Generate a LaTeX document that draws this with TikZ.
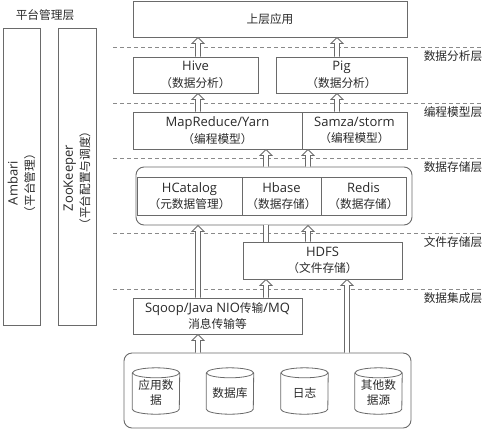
\documentclass[tikz,border=0pt]{standalone}
\usepackage{fontspec}
\setmainfont{Open Sans}
\newfontfamily\cjk[Scale=0.9]{Noto Sans CJK SC}
\usetikzlibrary{calc}
\definecolor{linec}{HTML}{6A6A6A}
\definecolor{txtc}{HTML}{2A2A2A}
\definecolor{dashc}{HTML}{8A8A8A}
\tikzset{
  box/.style={draw=linec, line width=0.9pt, align=center, inner sep=0pt,
    font=\fontsize{13}{16.5}\selectfont, text=txtc},
  rbox/.style={box, rounded corners=8pt},
  txt/.style={align=center, inner sep=0pt, font=\fontsize{13}{16.5}\selectfont, text=txtc},
  lbl/.style={font=\cjk\fontsize{13}{16}\selectfont, text=txtc, inner sep=0pt},
  dashline/.style={draw=dashc, dash pattern=on 4pt off 3pt, line width=0.8pt},
  harrow/.style={draw=linec, line width=0.8pt, fill=white},
  cylbox/.style={minimum width=47pt, minimum height=46pt, inner sep=0pt, align=center,
    font=\cjk\fontsize{13}{15}\selectfont, text=txtc},
}
\newcommand\hup[3]{\draw[harrow] let \p1=(#1,0 |- #2), \p2=(#1,0 |- #3) in
  (\x1-2.5pt,\y1) -- (\x1-2.5pt,\y2-6pt) -- (\x1-6pt,\y2-6pt) -- (\x1,\y2)
  -- (\x1+6pt,\y2-6pt) -- (\x1+2.5pt,\y2-6pt) -- (\x1+2.5pt,\y1);}
\newcommand\hpipe[3]{\path[fill=white] let \p1=(#1,0 |- #2), \p2=(#1,0 |- #3) in
  (\x1-2.5pt,\y1) rectangle (\x1+2.5pt,\y2);
  \draw[draw=linec, line width=0.8pt] let \p1=(#1,0 |- #2), \p2=(#1,0 |- #3) in
  (\x1-2.5pt,\y1) -- (\x1-2.5pt,\y2) (\x1+2.5pt,\y1) -- (\x1+2.5pt,\y2);}
\newcommand\cyl[1]{\draw[linec, line width=0.8pt]
  ([yshift=-5pt]#1.north) ellipse [x radius=23.5pt, y radius=5pt]
  ([yshift=-5pt]#1.north west) -- ([yshift=5pt]#1.south west)
  arc[start angle=180, end angle=360, x radius=23.5pt, y radius=5pt]
  -- ([yshift=-5pt]#1.north east);}
\begin{document}
\begin{tikzpicture}[x=1pt, y=-1pt]
\useasboundingbox[fill=white] (0,0) rectangle (489,429);
% dashed layer lines
\coordinate (d1a) at (113,47);  \coordinate (d1b) at (483,47);
\coordinate (d2a) at (113,103); \coordinate (d2b) at (483,103);
\coordinate (d3a) at (113,158); \coordinate (d3b) at (483,158);
\coordinate (d4a) at (113,233); \coordinate (d4b) at (483,233);
\coordinate (d5a) at (113,289); \coordinate (d5b) at (483,289);
\foreach \i in {1,...,5}{\draw[dashline] (d\i a) -- (d\i b);}
% layer labels
\node[lbl] (l0) at (45,15) {平台管理层};
\node[lbl] (l1) at (453,56) {数据分析层};
\node[lbl] (l2) at (453,112) {编程模型层};
\node[lbl] (l3) at (453,167) {数据存储层};
\node[lbl] (l4) at (453,242) {文件存储层};
\node[lbl] (l5) at (453,298) {数据集成层};
% left platform boxes
\node[box, minimum width=37pt, minimum height=297pt] (amb) at (21.5,176.5) {};
\node[txt, rotate=90] (ambt) at (21.5,183) {Ambari\\{\cjk （平台管理）}};
\node[box, minimum width=38pt, minimum height=297pt] (zoo) at (77,176.5) {};
\node[txt, rotate=90] (zoot) at (77,178) {ZooKeeper\\{\cjk （平台配置与调度）}};
% main stack
\node[box, minimum width=274pt, minimum height=36pt] (top) at (270,19) {\cjk 上层应用};
\node[box, minimum width=125pt, minimum height=36pt] (hive) at (195.5,75) {Hive\\{\cjk （数据分析）}};
\node[box, minimum width=131pt, minimum height=36pt] (pig) at (341.5,75) {Pig\\{\cjk （数据分析）}};
\node[box, minimum width=169pt, minimum height=37pt] (mr) at (217.5,130.5) {MapReduce/Yarn\\{\cjk （编程模型）}};
\node[box, minimum width=105pt, minimum height=37pt] (sam) at (354.5,130.5) {Samza/storm\\{\cjk （编程模型）}};
\node[rbox, minimum width=276pt, minimum height=58pt] (stor) at (274,196) {};
\node[box, minimum width=105pt, minimum height=38pt] (hcat) at (189.5,196) {HCatalog\\{\cjk （元数据管理）}};
\node[box, minimum width=79pt, minimum height=38pt] (hbase) at (281.5,196) {Hbase\\{\cjk （数据存储）}};
\node[box, minimum width=85pt, minimum height=38pt] (redis) at (363.5,196) {Redis\\{\cjk （数据存储）}};
\node[box, minimum width=159pt, minimum height=37pt] (hdfs) at (322.5,260.5) {HDFS\\{\cjk （文件存储）}};
\node[box, minimum width=169pt, minimum height=36pt] (sqoop) at (217.5,316) {Sqoop/Java NIO{\cjk 传输}/MQ\\{\cjk 消息传输等}};
\node[rbox, minimum width=287pt, minimum height=75pt] (src) at (267.5,390.5) {};
% cylinders
\node[cylbox] (c1) at (156,391) {};
\node[cylbox] (c2) at (230,391) {};
\node[cylbox] (c3) at (304.5,391) {};
\node[cylbox] (c4) at (378.5,391) {};
\cyl{c1}\cyl{c2}\cyl{c3}\cyl{c4}
\node[txt, font=\cjk\fontsize{13}{15}\selectfont] (c1t) at (156,393) {应用数\\据};
\node[txt, font=\cjk\fontsize{13}{15}\selectfont] (c2t) at (230,393) {数据库};
\node[txt, font=\cjk\fontsize{13}{15}\selectfont] (c3t) at (304.5,393) {日志};
\node[txt, font=\cjk\fontsize{13}{15}\selectfont] (c4t) at (378.5,393) {其他数\\据源};
% arrows
\hup{198}{hive.north}{top.south}
\hup{337}{pig.north}{top.south}
\hup{198}{mr.north}{hive.south}
\hup{337}{sam.north}{pig.south}
\hup{266}{stor.north}{mr.south}
\hup{308}{stor.north}{sam.south}
\hpipe{266}{hdfs.north}{stor.south}
\hup{308}{hdfs.north}{stor.south}
\hup{198}{sqoop.north}{stor.south}
\hup{266}{sqoop.north}{hdfs.south}
\hup{347}{src.north}{hdfs.south}
\hup{198}{src.north}{sqoop.south}
\end{tikzpicture}
\end{document}
